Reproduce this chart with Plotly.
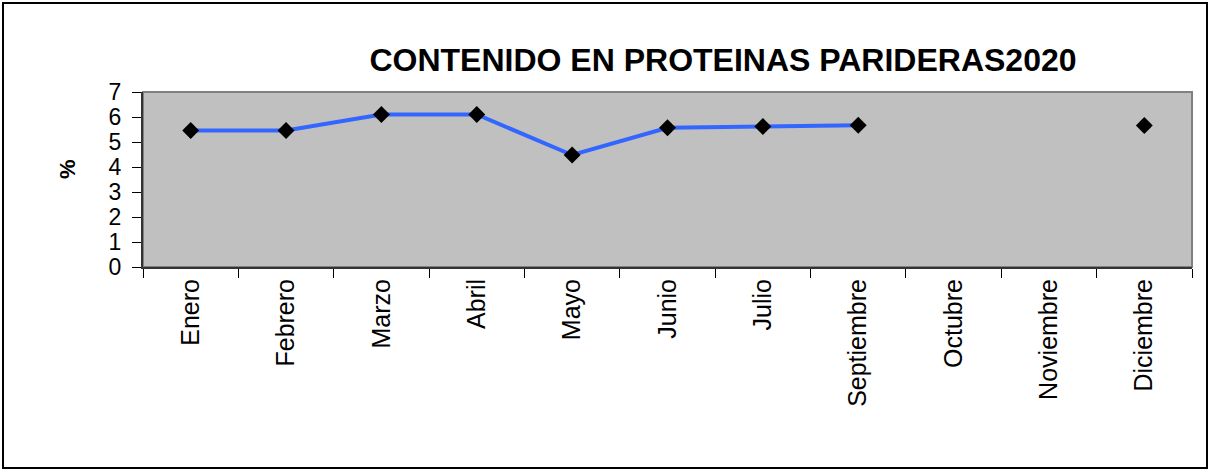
import plotly.graph_objects as go

# Datos (Agosto no aparece; Octubre y Noviembre sin dato)
meses = ["Enero", "Febrero", "Marzo", "Abril", "Mayo", "Junio", "Julio",
         "Septiembre", "Octubre", "Noviembre", "Diciembre"]
proteina = [5.46, 5.46, 6.1, 6.1, 4.48, 5.57, 5.62, 5.67, None, None, 5.66]

W, H = 1212, 474
ml, mr, mt, mb = 143, 20, 92, 207
pw, ph = W - ml - mr, H - mt - mb

fig = go.Figure()
fig.add_trace(go.Scatter(
    x=meses, y=proteina, mode="lines+markers",
    line=dict(color="#3366FF", width=4),
    marker=dict(symbol="diamond", size=13, color="black"),
    connectgaps=False, showlegend=False,
))

fig.update_layout(
    width=W, height=H,
    margin=dict(l=ml, r=mr, t=mt, b=mb),
    paper_bgcolor="white", plot_bgcolor="#C0C0C0",
    font=dict(family="Liberation Sans, Arial", color="black"),
    title=dict(text="<b>CONTENIDO EN PROTEINAS PARIDERAS2020</b>",
               font=dict(size=32), xref="container", yref="container",
               x=723 / W, xanchor="center", y=1 - 60 / H, yanchor="middle"),
)
fig.update_yaxes(range=[0, 7], dtick=1, showgrid=False, zeroline=False,
                 automargin=False,
                 ticks="outside", ticklen=9, tickcolor="black",
                 showline=True, linecolor="#333333", linewidth=2,
                 tickfont=dict(size=23), ticklabelstandoff=6)
fig.update_xaxes(range=[-0.5, len(meses) - 0.5], automargin=False,
                 showgrid=False, ticks="outside", ticklen=9, tickcolor="black",
                 tickson="boundaries", tickangle=-90,
                 showline=True, linecolor="#333333", linewidth=2,
                 tickfont=dict(size=25))

# borde del área de trazado (arriba y derecha gris)
fig.add_shape(type="rect", xref="paper", yref="paper", x0=0, x1=1, y0=0, y1=1,
              line=dict(color="#808080", width=2), layer="below")
# marco exterior (en píxeles: 3..1207 x 3..468)
fig.add_shape(type="rect", xref="paper", yref="paper",
              x0=(3 - ml) / pw, x1=(W - 5 - ml) / pw,
              y0=(H - mb - 468) / ph, y1=(H - mb - 3) / ph,
              line=dict(color="black", width=2))
fig.add_annotation(text="<b>%</b>", xref="paper", yref="paper",
                   x=(67 - ml) / pw, y=(H - mb - 169) / ph, showarrow=False,
                   textangle=-90, font=dict(size=22), xanchor="center", yanchor="middle")

# sin margen del body para que la figura empiece en (0, 0)
fig.write_html("out.html", config={"displayModeBar": False},
               post_script="document.body.style.margin='0';"
                           "document.body.style.overflow='hidden';")
